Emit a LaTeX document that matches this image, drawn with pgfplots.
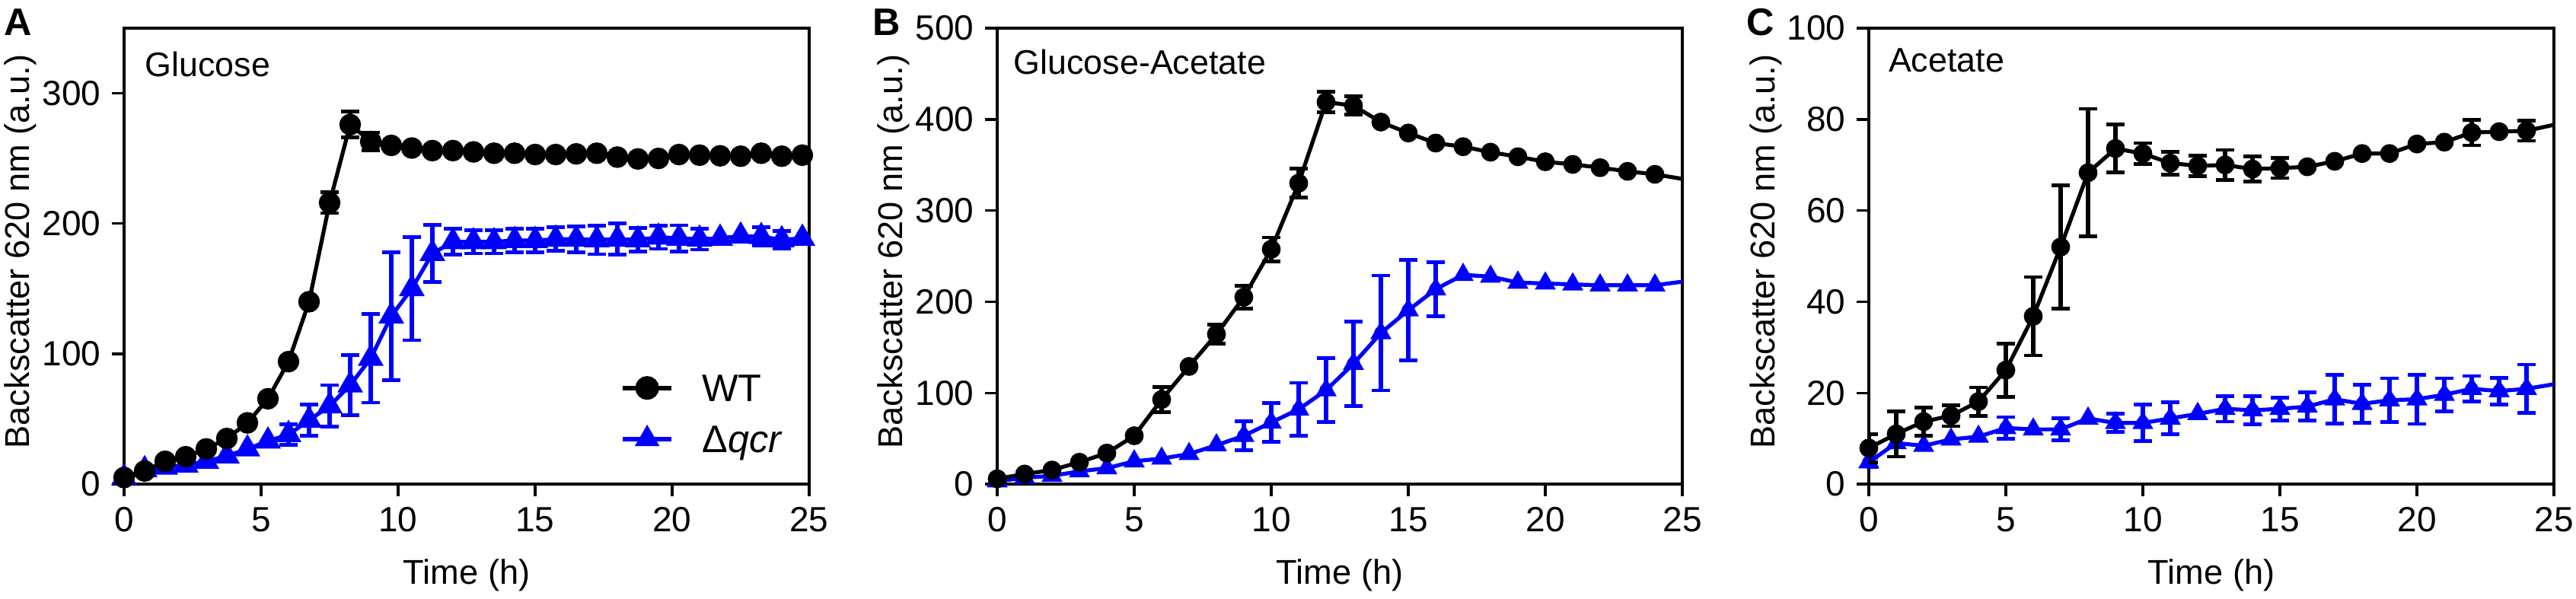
\documentclass[border=0pt]{standalone}
\usepackage{pgfplots}
\pgfplotsset{compat=1.18}
\usepackage{pgfplotstable}
\usepackage{fontspec}
\setmainfont{Liberation Sans}
\definecolor{ko}{RGB}{0,0,255}

% ---------------- Panel A : Glucose ----------------
\pgfplotstableread{
x y
0 5
0.75 10
1.5 17.5
2.25 21
3.0 27
3.75 35
4.5 47
5.25 65.5
6.0 94
6.75 140
7.5 216
8.25 276
9.0 263
9.75 260
10.5 258
11.25 256
12.0 256
12.75 255
13.5 254
14.25 254
15.0 253
15.75 253
16.5 253.5
17.25 254
18.0 251
18.75 249.6
19.5 250
20.25 253
21.0 252.5
21.75 252
22.5 251.7
23.25 254
24.0 251.7
24.75 252.5
}\AWT
\pgfplotstableread{
x y e
7.5 216 8
8.25 276 10
9.0 263 7
}\AWTerr
\pgfplotstableread{
x y
0 5
0.75 11
1.5 13
2.25 14.6
3.0 17.5
3.75 21.6
4.5 27
5.25 33
6.0 38
6.75 49
7.5 60
8.25 76
9.0 96.5
9.75 129
10.5 150
11.25 177
12.0 186
12.75 186
13.5 186
14.25 187
15.0 187
15.75 188
16.5 188
17.25 187.5
18.0 188
18.75 187.5
19.5 189.5
20.25 188.7
21.0 188
21.75 188.7
22.5 190.4
23.25 190
24.0 187.5
24.75 188.7
}\AKO
\pgfplotstableread{
x y e
6.0 38 8
6.75 49 12
7.5 60 16
8.25 76 23
9.0 96.5 34
9.75 129 49
10.5 150 39.5
11.25 177 22
12.0 186 10
12.75 186 9
13.5 186 9
14.25 187 9
15.0 187 9
15.75 188 9
16.5 188 10
17.25 187.5 11
18.0 188 12
18.75 187.5 9
19.5 189.5 9
20.25 188.7 10
21.0 188 8
23.25 190 7
24.0 187.5 7
}\AKOerr

% ---------------- Panel B : Glucose-Acetate ----------------
\pgfplotstableread{
x y
0 5.8
1 11
2 15.4
3 24
4 34
5 53
6 92.7
7 129
8 164.4
9 205
10 257.5
11 330
12 419
13 415
14 397
15 385
16 374
17 370
18 364
19 359
20 353.5
21 350.6
22 347
23 343
24 339.7
25 334.7
}\BWT
\pgfplotstableread{
x y e
6 92.7 14
8 164.4 10.4
9 205 12.5
10 257.5 13
11 330 16
12 419 11
13 415 10
}\BWTerr
\pgfplotstableread{
x y
0 3
1 7
2 9
3 14
4 17.5
5 25
6 28
7 33
8 42.6
9 53
10 67.6
11 82
12 103
13 132
14 165.7
15 190.7
16 213.7
17 229.5
18 227.5
19 221
20 220
21 219
22 218
23 218
24 218
25 222
}\BKO
\pgfplotstableread{
x y e
9 53 16
10 67.6 21
11 82 29
12 103 35
13 132 46.5
14 165.7 63
15 190.7 55
16 213.7 29.6
}\BKOerr

% ---------------- Panel C : Acetate ----------------
\pgfplotstableread{
x y
0 7.9
1 11
2 13.7
3 15
4 18.1
5 25
6 36.8
7 52
8 68.3
9 73.6
10 72.5
11 70.4
12 69.8
13 70
14 69.1
15 69.3
16 69.6
17 70.8
18 72.5
19 72.5
20 74.6
21 75
22 77.1
23 77.3
24 77.5
25 78.8
}\CWT
\pgfplotstableread{
x y e
0 7.9 3.1
1 11 5
2 13.7 3.1
3 15 2.3
4 18.1 3.1
5 25 5.85
6 36.8 8.6
7 52 13.5
8 68.3 14
9 73.6 5.3
10 72.5 2.3
11 70.4 2.5
12 69.8 2.3
13 70 3.3
14 69.1 2.8
15 69.3 2.2
22 77.1 2.8
24 77.5 2.2
}\CWTerr
\pgfplotstableread{
x y
0 4.8
1 9
2 8.4
3 9.8
4 10.4
5 12.3
6 12
7 12
8 14.4
9 13.4
10 13.4
11 14.4
12 15.4
13 16.5
14 16.2
15 16.5
16 17
17 18.6
18 17.6
19 18.4
20 18.6
21 19.6
22 20.9
23 20.4
24 20.9
25 21.9
}\CKO
\pgfplotstableread{
x y e
0 4.8 1
5 12.3 2.4
7 12 2.4
9 13.4 2
10 13.4 4
11 14.4 3.5
13 16.5 2.8
14 16.2 3.1
15 16.5 2.5
16 17 3.1
17 18.6 5.35
18 17.6 4.2
19 18.4 4.8
20 18.6 5.4
21 19.6 3.6
22 20.9 2.8
23 20.4 2.9
24 20.9 5.3
}\CKOerr

\newcommand{\labfont}{\fontsize{11.3}{13}\selectfont}

\pgfplotsset{
  panel/.style={
    scale only axis, width=225pt, height=149.75pt,
    xmin=0, xmax=25, ymin=0,
    xtick={0,5,10,15,20,25},
    clip mode=individual,
    axis line style={line width=0.85pt},
    every tick/.style={line width=0.85pt, black},
    tick align=outside, tick pos=left,
    major tick length=4.1pt,
    tick label style={font=\fontsize{11.5}{13}\selectfont},
    /pgf/number format/assume math mode=true,
  },
  wtline/.style={black, line width=1.3pt, mark=none},
  koline/.style={ko, line width=1.3pt, mark=none},
  wtmark/.style={black, only marks, mark=*, mark size=2.9pt, mark options={solid, fill=black}},
  komark/.style={ko, only marks, mark=triangle*, mark size=3.6pt, mark options={solid, fill=ko}},
  errb/.style={only marks, mark=none, forget plot,
    error bars/.cd, y dir=both, y explicit,
    error bar style={line width=1.3pt},
    error mark options={rotate=90, mark size=3pt, line width=1.2pt}},
}

\begin{document}
\begin{tikzpicture}
\useasboundingbox (0,0) rectangle (846pt,196.5pt);

% Panel letters
\node[anchor=base west, inner sep=0pt, font=\bfseries\fontsize{12.6}{14}\selectfont] at (1.25pt,185pt) {A};
\node[anchor=base west, inner sep=0pt, font=\bfseries\fontsize{12.6}{14}\selectfont] at (286.5pt,185pt) {B};
\node[anchor=base west, inner sep=0pt, font=\bfseries\fontsize{12.6}{14}\selectfont] at (573.5pt,185pt) {C};

% ---------- A ----------
\begin{axis}[panel, at={(40.75pt,37.5pt)}, anchor=south west,
  ymax=350, ytick={0,100,200,300},
  reverse legend,
  legend style={at={(axis description cs:0.7244,0.2387)}, anchor=north west, draw=none, fill=none,
    inner sep=0pt, outer sep=0pt,
    font=\fontsize{12.6}{14}\selectfont, row sep=6.6pt, column sep=9.25pt,
    nodes={inner sep=0pt, outer sep=0pt, anchor=base west}},
  legend image code/.code={\draw[mark repeat=2,mark phase=2, line width=1.6pt, mark size=3.1pt] plot coordinates {(0pt,4.5pt) (8pt,4.5pt) (16pt,4.5pt)};},
]
\addplot[ko, line width=1.3pt, mark=triangle*, mark size=3.6pt, mark options={solid, fill=ko}] table[x=x,y=y] {\AKO};
\addlegendentry{Δ\textit{qcr}}
\addplot[ko, errb] table[x=x,y=y,y error=e] {\AKOerr};
\addplot[black, line width=1.3pt, mark=*, mark size=2.9pt, mark options={solid, fill=black}] table[x=x,y=y] {\AWT};
\addlegendentry{WT}
\addplot[black, errb] table[x=x,y=y,y error=e] {\AWTerr};
\node[anchor=base west, inner sep=0pt, font=\fontsize{11.2}{13}\selectfont] at (axis description cs:0.03,0.8948) {Glucose};
\node[anchor=base, inner sep=0pt, font=\labfont] at (axis description cs:0.5,-0.2187) {Time (h)};
\node[anchor=base, rotate=90, inner sep=0pt, font=\labfont] at (axis description cs:-0.1378,0.51) {Backscatter 620 nm (a.u.)};
\end{axis}

% ---------- B ----------
\begin{axis}[panel, at={(327.5pt,37.5pt)}, anchor=south west,
  ymax=500, ytick={0,100,200,300,400,500},
]
\addplot[koline] table[x=x,y=y] {\BKO};
\addplot[komark] table[x=x,y=y, skip coords between index={25}{26}] {\BKO};
\addplot[ko, errb] table[x=x,y=y,y error=e] {\BKOerr};
\addplot[wtline] table[x=x,y=y] {\BWT};
\addplot[wtmark] table[x=x,y=y, skip coords between index={25}{26}] {\BWT};
\addplot[black, errb] table[x=x,y=y,y error=e] {\BWTerr};
\node[anchor=base west, inner sep=0pt, font=\fontsize{11.2}{13}\selectfont] at (axis description cs:0.0233,0.8985) {Glucose-Acetate};
\node[anchor=base, inner sep=0pt, font=\labfont] at (axis description cs:0.5,-0.2187) {Time (h)};
\node[anchor=base, rotate=90, inner sep=0pt, font=\labfont] at (axis description cs:-0.1378,0.51) {Backscatter 620 nm (a.u.)};
\end{axis}

% ---------- C ----------
\begin{axis}[panel, at={(613.75pt,37.5pt)}, anchor=south west,
  ymax=100, ytick={0,20,40,60,80,100},
]
\addplot[koline] table[x=x,y=y] {\CKO};
\addplot[komark] table[x=x,y=y, skip coords between index={25}{26}] {\CKO};
\addplot[ko, errb] table[x=x,y=y,y error=e] {\CKOerr};
\addplot[wtline] table[x=x,y=y] {\CWT};
\addplot[wtmark] table[x=x,y=y, skip coords between index={25}{26}] {\CWT};
\addplot[black, errb] table[x=x,y=y,y error=e] {\CWTerr};
\node[anchor=base west, inner sep=0pt, font=\fontsize{11.2}{13}\selectfont] at (axis description cs:0.028,0.9035) {Acetate};
\node[anchor=base, inner sep=0pt, font=\labfont] at (axis description cs:0.5,-0.2187) {Time (h)};
\node[anchor=base, rotate=90, inner sep=0pt, font=\labfont] at (axis description cs:-0.1378,0.51) {Backscatter 620 nm (a.u.)};
\end{axis}
\end{tikzpicture}
\end{document}
